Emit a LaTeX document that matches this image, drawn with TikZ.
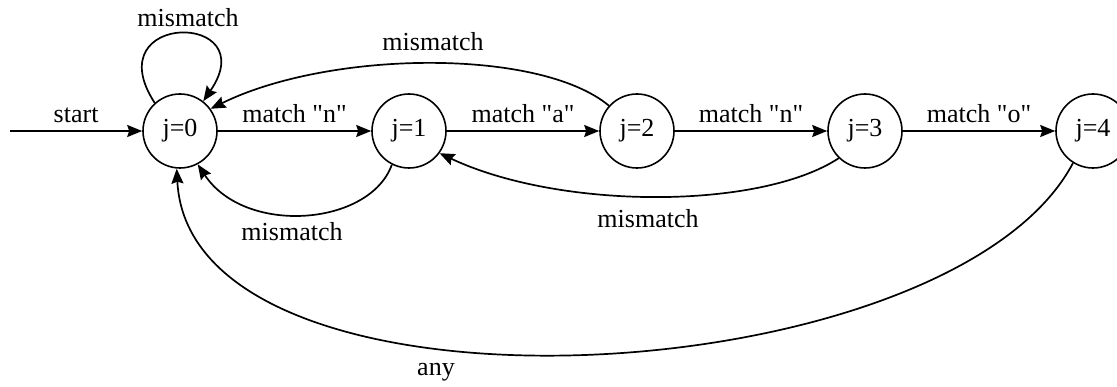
\documentclass[tikz,border=0pt]{standalone}
\usepackage{fontspec}
\setmainfont{Liberation Serif}[Ligatures=TeXOff]
\usetikzlibrary{arrows.meta}
\begin{document}
\begin{tikzpicture}[x=1pt,y=1pt,
  state/.style={draw,circle,minimum size=74pt,inner sep=0pt,line width=1.6pt},
  arr/.style={line width=1.7pt,-{Stealth[length=15pt,width=12pt,inset=2pt]}}]
\useasboundingbox (0,0) rectangle (1117,386);
\fill[white] (0,0) rectangle (1117,386);
\tikzset{every node/.append style={font=\fontsize{26}{30}\selectfont}}

% states
\node[state] (j0) at (180,255) {j=0};
\node[state] (j1) at (409,255) {j=1};
\node[state] (j2) at (637,255) {j=2};
\node[state] (j3) at (865,255) {j=3};
\node[state] (j4) at (1093,255) {j=4};
\coordinate (in) at (10,255);

% forward transitions
\draw[arr] (in) -- node[above=4pt] {start} (j0);
\draw[arr] (j0) -- node[above=4pt] {match "n"} (j1);
\draw[arr] (j1) -- node[above=4pt] {match "a"} (j2);
\draw[arr] (j2) -- node[above=4pt] {match "n"} (j3);
\draw[arr] (j3) -- node[above=4pt] {match "o"} (j4);

% fallback transitions
\draw[arr] (j0.132) .. controls (95,375) and (265,375) .. (j0.52);
\node (l0) at (188,368) {mismatch};

\draw[arr] (j2.138) .. controls (540,338) and (330,336) .. (j0.36);
\node (l2) at (433,344) {mismatch};

\draw[arr] (j1.243) .. controls (370,160) and (245,150) .. (j0.-62);
\node (l1) at (292,154) {mismatch};

\draw[arr] (j3.226) .. controls (760,176) and (560,176) .. (j1.-36);
\node (l3) at (648,167) {mismatch};

\draw[arr] (j4.238) .. controls (950,-10) and (190,-50) .. (j0.-95);
\node (l4) at (436,14) {any};
\end{tikzpicture}
\end{document}
